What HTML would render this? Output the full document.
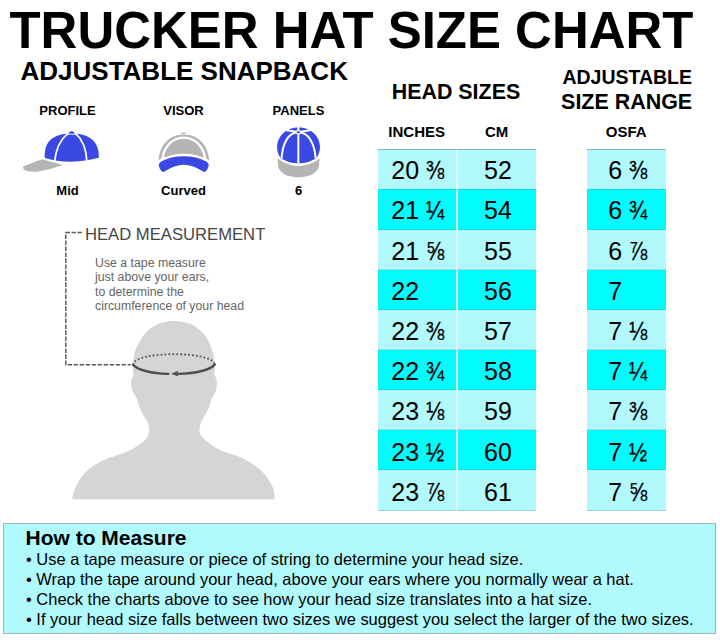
<!DOCTYPE html>
<html><head><meta charset="utf-8">
<style>
html,body{margin:0;padding:0;background:#fff;}
body{width:720px;height:642px;position:relative;overflow:hidden;font-family:"Liberation Sans",sans-serif;color:#000;}
.t{position:absolute;white-space:nowrap;line-height:1;}
.b{font-weight:bold;}
.c{transform:translateX(-50%);}
.cell{position:absolute;height:40px;}
.lt{background:#b1f9fc;}
.dk{background:#02fcfe;}
.num{position:absolute;white-space:nowrap;line-height:1;font-size:25px;}
.fr{display:inline-block;transform:scaleX(0.87);transform-origin:0 50%;margin-left:-0.5px;-webkit-text-stroke:0.3px #000;}
</style></head><body>

<div class="t b" style="left:9.5px;top:6px;font-size:50.95px;">TRUCKER HAT SIZE CHART</div>
<div class="t b" style="left:20.5px;top:58px;font-size:26px;">ADJUSTABLE SNAPBACK</div>

<div class="t b c" style="left:67.5px;top:104px;font-size:13px;">PROFILE</div>
<div class="t b c" style="left:183.5px;top:104px;font-size:13px;">VISOR</div>
<div class="t b c" style="left:298.5px;top:104px;font-size:13px;">PANELS</div>
<div class="t b c" style="left:67.5px;top:183.7px;font-size:13px;">Mid</div>
<div class="t b c" style="left:183.5px;top:183.7px;font-size:13px;">Curved</div>
<div class="t b c" style="left:298.5px;top:183.7px;font-size:13px;">6</div>

<!-- icons -->
<svg style="position:absolute;left:0;top:120px" width="360" height="70" viewBox="0 120 360 70">
  <!-- profile cap -->
  <path d="M23.4 166.3 L41.9 159.2 Q52 161.8 63 165 Q50 169.8 38 171.6 Q31 172.2 27 171 Q22 169.3 23.4 166.3Z" fill="#b3b6b2"/>
  <path d="M44.8 158 C44.2 149 46.5 142.5 52.5 138.3 C57.5 135 64 133.6 71.5 133.6 C79 133.6 85.5 135 90.5 138.3 C96.5 142.5 99 149 98.8 157.8 Q86 161.3 71 161.7 Q56 161.5 44.8 158Z" fill="#3b49e4"/>
  <ellipse cx="71.6" cy="132.9" rx="2.6" ry="1.6" fill="#3b49e4"/>
  <path d="M67.6 133.6 C61 139 56 148 54.5 162" stroke="#fff" stroke-width="1.7" fill="none"/>
  <path d="M75.8 133.6 C82.5 139.5 86.3 148 86.9 162" stroke="#fff" stroke-width="1.7" fill="none"/>
  <path d="M67.6 134.6 Q71.6 133.6 75.8 134.6" stroke="#fff" stroke-width="0.9" fill="none"/>
  <!-- visor cap -->
  <ellipse cx="183.7" cy="133.3" rx="2.6" ry="1.1" fill="#c4c6c3"/>
  <path d="M158.4 163 C158.4 146 168.5 134.4 183.75 134.4 C199 134.4 209.2 146 209.2 163Z" fill="#b3b6b2"/>
  <path d="M162.2 163 C162.2 148.5 171.5 137.6 183.75 137.6 C196 137.6 205.4 148.5 205.4 163" stroke="#fff" stroke-width="2.3" fill="none"/>
  <path d="M158.9 166 Q158.4 163.2 161.2 161.6 Q171 156.25 183.75 156.25 Q196.5 156.25 206.3 161.6 Q209.1 163.2 208.6 166 Q207.8 169.8 205.6 171.5 Q204.2 172.4 202.6 171.3 Q193 164.75 183.75 164.75 Q174.5 164.75 164.9 171.3 Q163.3 172.4 161.9 171.5 Q159.7 169.8 158.9 166Z" fill="#fff" stroke="#fff" stroke-width="5.2" stroke-linejoin="round"/>
  <path d="M158.9 166 Q158.4 163.2 161.2 161.6 Q171 156.25 183.75 156.25 Q196.5 156.25 206.3 161.6 Q209.1 163.2 208.6 166 Q207.8 169.8 205.6 171.5 Q204.2 172.4 202.6 171.3 Q193 164.75 183.75 164.75 Q174.5 164.75 164.9 171.3 Q163.3 172.4 161.9 171.5 Q159.7 169.8 158.9 166Z" fill="#3b49e4"/>
  <!-- panels cap -->
  <g transform="translate(-0.4,0.8)">
  <path d="M277.9 157.6 Q298.9 172.6 320 157.6 L319.2 166 Q318 171 311 174.5 Q305 176.6 298.9 176.6 Q292.5 176.6 286.5 174.5 Q279.8 171 278.6 166Z" fill="#b3b6b2"/>
  <clipPath id="pc"><path d="M270 120 H330 V155.1 L320.4 155.1 Q298.9 170.1 277.4 155.1 L270 155.1Z"/></clipPath>
  <ellipse cx="298.9" cy="146.3" rx="21.5" ry="19.9" fill="#3b49e4" clip-path="url(#pc)"/>
  <g stroke="#fff" stroke-width="2" fill="none" clip-path="url(#pc)">
    <path d="M298.75 125 V165"/>
    <path d="M298.75 131.4 C289 131.3 283 142 281.9 158"/>
    <path d="M298.75 131.4 C308.5 131.3 315 142 316.1 158"/>
    <path d="M298.75 131.4 L286 129.2"/>
    <path d="M298.75 131.4 L311.5 129.2"/>
  </g>
  <ellipse cx="298.75" cy="131.4" rx="2.5" ry="1.6" fill="#3b49e4" stroke="#fff" stroke-width="1.1"/>
  </g>
</svg>

<!-- head measurement -->
<svg style="position:absolute;left:50px;top:215px" width="260" height="295" viewBox="50 215 260 295">
  <path d="M72.1 499.3 C72.5 497.7 72.4 494.1 74.4 489.9 C76.4 485.7 79.5 478.7 84.0 473.9 C88.5 469.1 94.3 464.8 101.5 461.1 C108.7 457.4 119.9 454.9 127.1 451.5 C134.3 448.1 141.1 443.6 144.7 440.4 C148.3 437.2 148.2 435.2 148.8 432.4 C149.4 429.6 149.0 426.2 148.1 423.4 C147.2 420.5 144.8 418.0 143.4 415.3 C142.0 412.6 140.4 409.7 139.4 407.2 C138.4 404.7 138.0 402.0 137.3 400.1 C136.6 398.2 136.2 397.9 135.3 396.0 C134.4 394.1 132.6 391.6 131.9 388.9 C131.2 386.2 131.0 382.1 131.3 379.8 C131.6 377.5 133.5 377.1 133.7 375.2 C133.9 373.3 132.8 371.1 132.7 368.7 C132.6 366.3 132.9 363.6 133.3 360.6 C133.7 357.6 134.1 353.9 135.3 350.5 C136.5 347.1 138.4 343.6 140.4 340.4 C142.4 337.2 144.5 334.0 147.4 331.3 C150.3 328.6 153.1 325.9 157.6 324.2 C162.1 322.5 168.8 321.1 174.4 321.1 C180.0 321.1 186.6 322.5 191.0 324.2 C195.4 325.9 198.2 328.6 201.1 331.3 C204.0 334.0 206.3 337.2 208.2 340.4 C210.0 343.6 211.2 347.1 212.2 350.5 C213.2 353.9 213.9 357.6 214.3 360.6 C214.8 363.6 214.9 366.3 214.9 368.7 C214.9 371.1 214.2 372.9 214.5 374.8 C214.8 376.7 216.4 377.5 216.7 379.8 C217.0 382.1 216.9 386.2 216.3 388.9 C215.7 391.6 214.2 394.2 213.3 396.0 C212.5 397.8 211.9 397.7 211.2 399.6 C210.5 401.5 210.2 404.6 209.2 407.2 C208.2 409.8 206.5 412.6 205.1 415.3 C203.7 418.0 201.5 420.7 200.6 423.4 C199.7 426.1 199.1 428.9 199.6 431.5 C200.1 434.1 200.5 435.7 203.8 438.8 C207.2 441.9 213.3 446.7 219.7 449.9 C226.1 453.1 235.2 454.4 242.1 457.9 C249.0 461.4 256.2 465.9 261.3 470.7 C266.4 475.5 270.3 481.9 272.5 486.7 C274.7 491.5 274.3 497.2 274.7 499.3 Z" fill="#d5d5d5"/>
  <path d="M81.9 232.6 H65.8 V364.7 H130.6" stroke="#5a5a5a" stroke-width="1.5" stroke-dasharray="4.4 1.6" fill="none"/>
  <path d="M133.2 364.4 C135 350.8 212.8 350.8 214.6 364.4" stroke="#555" stroke-width="2" stroke-dasharray="0.1 3.8" stroke-linecap="round" fill="none"/>
  <path d="M132.9 364.6 C138 369.8 151 373.4 168.4 373.9" stroke="#4d4d4d" stroke-width="2.3" fill="none" stroke-linecap="round"/>
  <path d="M177.6 373.9 C195.5 373.4 209.5 370 214.8 364.6" stroke="#4d4d4d" stroke-width="2.3" fill="none" stroke-linecap="round"/>
  <path d="M171.2 373.8 L178.3 370.8 L177.2 373.8 L178.3 376.6Z" fill="#4d4d4d"/>
</svg>
<div class="t" style="left:85px;top:226.5px;font-size:16.65px;color:#454545;">HEAD MEASUREMENT</div>
<div class="t" style="left:95px;top:255.8px;font-size:12.3px;line-height:14.5px;color:#666;white-space:pre;">Use a tape measure
just above your ears,
to determine the
circumference of your head</div>

<!-- table headers -->
<div class="t b" style="left:391.8px;top:81.5px;font-size:21.4px;">HEAD SIZES</div>
<div class="t b" style="left:562.4px;top:67.9px;font-size:19.5px;">ADJUSTABLE</div>
<div class="t b" style="left:561.1px;top:92.4px;font-size:21.45px;">SIZE RANGE</div>
<div class="t b" style="left:388.3px;top:124px;font-size:15px;">INCHES</div>
<div class="t b" style="left:485px;top:124px;font-size:15px;">CM</div>
<div class="t b" style="left:605.8px;top:124px;font-size:15px;">OSFA</div>

<!-- table -->
<div id="tbl">
<div class="cell lt" style="height:40.1px;left:377.5px;top:149.40px;width:78.7px;"></div>
<div class="cell lt" style="height:40.1px;left:458px;top:149.40px;width:78.2px;"></div>
<div class="cell lt" style="height:40.1px;left:587.2px;top:149.40px;width:78.7px;"></div>
<div class="num" style="left:391.3px;top:158.05px;">20 <span class="fr">⅜</span></div>
<div class="num" style="left:498px;top:158.05px;transform:translateX(-50%);">52</div>
<div class="num" style="left:608.2px;top:158.05px;">6 <span class="fr">⅜</span></div>
<div class="cell dk" style="height:40.1px;left:377.5px;top:189.46px;width:78.7px;"></div>
<div class="cell dk" style="height:40.1px;left:458px;top:189.46px;width:78.2px;"></div>
<div class="cell dk" style="height:40.1px;left:587.2px;top:189.46px;width:78.7px;"></div>
<div class="num" style="left:391.3px;top:198.28px;">21 <span class="fr">¼</span></div>
<div class="num" style="left:498px;top:198.28px;transform:translateX(-50%);">54</div>
<div class="num" style="left:608.2px;top:198.28px;">6 <span class="fr">¾</span></div>
<div class="cell lt" style="height:40.1px;left:377.5px;top:229.52px;width:78.7px;"></div>
<div class="cell lt" style="height:40.1px;left:458px;top:229.52px;width:78.2px;"></div>
<div class="cell lt" style="height:40.1px;left:587.2px;top:229.52px;width:78.7px;"></div>
<div class="num" style="left:391.3px;top:238.51px;">21 <span class="fr">⅝</span></div>
<div class="num" style="left:498px;top:238.51px;transform:translateX(-50%);">55</div>
<div class="num" style="left:608.2px;top:238.51px;">6 <span class="fr">⅞</span></div>
<div class="cell dk" style="height:40.1px;left:377.5px;top:269.58px;width:78.7px;"></div>
<div class="cell dk" style="height:40.1px;left:458px;top:269.58px;width:78.2px;"></div>
<div class="cell dk" style="height:40.1px;left:587.2px;top:269.58px;width:78.7px;"></div>
<div class="num" style="left:391.3px;top:278.74px;">22</div>
<div class="num" style="left:498px;top:278.74px;transform:translateX(-50%);">56</div>
<div class="num" style="left:608.2px;top:278.74px;">7</div>
<div class="cell lt" style="height:40.1px;left:377.5px;top:309.64px;width:78.7px;"></div>
<div class="cell lt" style="height:40.1px;left:458px;top:309.64px;width:78.2px;"></div>
<div class="cell lt" style="height:40.1px;left:587.2px;top:309.64px;width:78.7px;"></div>
<div class="num" style="left:391.3px;top:318.97px;">22 <span class="fr">⅜</span></div>
<div class="num" style="left:498px;top:318.97px;transform:translateX(-50%);">57</div>
<div class="num" style="left:608.2px;top:318.97px;">7 <span class="fr">⅛</span></div>
<div class="cell dk" style="height:40.1px;left:377.5px;top:349.70px;width:78.7px;"></div>
<div class="cell dk" style="height:40.1px;left:458px;top:349.70px;width:78.2px;"></div>
<div class="cell dk" style="height:40.1px;left:587.2px;top:349.70px;width:78.7px;"></div>
<div class="num" style="left:391.3px;top:359.20px;">22 <span class="fr">¾</span></div>
<div class="num" style="left:498px;top:359.20px;transform:translateX(-50%);">58</div>
<div class="num" style="left:608.2px;top:359.20px;">7 <span class="fr">¼</span></div>
<div class="cell lt" style="height:40.1px;left:377.5px;top:389.76px;width:78.7px;"></div>
<div class="cell lt" style="height:40.1px;left:458px;top:389.76px;width:78.2px;"></div>
<div class="cell lt" style="height:40.1px;left:587.2px;top:389.76px;width:78.7px;"></div>
<div class="num" style="left:391.3px;top:399.43px;">23 <span class="fr">⅛</span></div>
<div class="num" style="left:498px;top:399.43px;transform:translateX(-50%);">59</div>
<div class="num" style="left:608.2px;top:399.43px;">7 <span class="fr">⅜</span></div>
<div class="cell dk" style="height:40.1px;left:377.5px;top:429.82px;width:78.7px;"></div>
<div class="cell dk" style="height:40.1px;left:458px;top:429.82px;width:78.2px;"></div>
<div class="cell dk" style="height:40.1px;left:587.2px;top:429.82px;width:78.7px;"></div>
<div class="num" style="left:391.3px;top:439.66px;">23 <span class="fr">½</span></div>
<div class="num" style="left:498px;top:439.66px;transform:translateX(-50%);">60</div>
<div class="num" style="left:608.2px;top:439.66px;">7 <span class="fr">½</span></div>
<div class="cell lt" style="height:41.1px;left:377.5px;top:469.88px;width:78.7px;"></div>
<div class="cell lt" style="height:41.1px;left:458px;top:469.88px;width:78.2px;"></div>
<div class="cell lt" style="height:41.1px;left:587.2px;top:469.88px;width:78.7px;"></div>
<div class="num" style="left:391.3px;top:479.89px;">23 <span class="fr">⅞</span></div>
<div class="num" style="left:498px;top:479.89px;transform:translateX(-50%);">61</div>
<div class="num" style="left:608.2px;top:479.89px;">7 <span class="fr">⅝</span></div>
</div><!--endtbl-->
<div id="lines">
<div style="position:absolute;left:456.2px;top:149.4px;width:1.8px;height:361.1px;background:#dafcfd;"></div>
<div style="position:absolute;left:377.5px;top:149.00px;width:158.7px;height:1px;background:rgba(90,120,120,0.5);"></div>
<div style="position:absolute;left:587.2px;top:149.00px;width:78.7px;height:1px;background:rgba(90,120,120,0.5);"></div>
<div style="position:absolute;left:377.5px;top:189.06px;width:158.7px;height:1px;background:rgba(90,120,120,0.22);"></div>
<div style="position:absolute;left:587.2px;top:189.06px;width:78.7px;height:1px;background:rgba(90,120,120,0.22);"></div>
<div style="position:absolute;left:377.5px;top:229.12px;width:158.7px;height:1px;background:rgba(90,120,120,0.22);"></div>
<div style="position:absolute;left:587.2px;top:229.12px;width:78.7px;height:1px;background:rgba(90,120,120,0.22);"></div>
<div style="position:absolute;left:377.5px;top:269.18px;width:158.7px;height:1px;background:rgba(90,120,120,0.22);"></div>
<div style="position:absolute;left:587.2px;top:269.18px;width:78.7px;height:1px;background:rgba(90,120,120,0.22);"></div>
<div style="position:absolute;left:377.5px;top:309.24px;width:158.7px;height:1px;background:rgba(90,120,120,0.22);"></div>
<div style="position:absolute;left:587.2px;top:309.24px;width:78.7px;height:1px;background:rgba(90,120,120,0.22);"></div>
<div style="position:absolute;left:377.5px;top:349.30px;width:158.7px;height:1px;background:rgba(90,120,120,0.22);"></div>
<div style="position:absolute;left:587.2px;top:349.30px;width:78.7px;height:1px;background:rgba(90,120,120,0.22);"></div>
<div style="position:absolute;left:377.5px;top:389.36px;width:158.7px;height:1px;background:rgba(90,120,120,0.22);"></div>
<div style="position:absolute;left:587.2px;top:389.36px;width:78.7px;height:1px;background:rgba(90,120,120,0.22);"></div>
<div style="position:absolute;left:377.5px;top:429.42px;width:158.7px;height:1px;background:rgba(90,120,120,0.22);"></div>
<div style="position:absolute;left:587.2px;top:429.42px;width:78.7px;height:1px;background:rgba(90,120,120,0.22);"></div>
<div style="position:absolute;left:377.5px;top:469.48px;width:158.7px;height:1px;background:rgba(90,120,120,0.22);"></div>
<div style="position:absolute;left:587.2px;top:469.48px;width:78.7px;height:1px;background:rgba(90,120,120,0.22);"></div>
<div style="position:absolute;left:377.5px;top:510.14px;width:158.7px;height:1px;background:rgba(90,120,120,0.3);"></div>
<div style="position:absolute;left:587.2px;top:510.14px;width:78.7px;height:1px;background:rgba(90,120,120,0.3);"></div>
</div>

<!-- how to measure -->
<div style="position:absolute;left:3px;top:523px;width:711px;height:109.3px;background:#b0f9fc;border:1px solid #a9b4b6;box-sizing:content-box;"></div>
<div class="t b" style="left:25.5px;top:527.2px;font-size:21px;">How to Measure</div>
<div class="t" style="left:26px;top:550px;font-size:16.48px;line-height:19.85px;white-space:pre;">• Use a tape measure or piece of string to determine your head size.
• Wrap the tape around your head, above your ears where you normally wear a hat.
• Check the charts above to see how your head size translates into a hat size.
• If your head size falls between two sizes we suggest you select the larger of the two sizes.</div>

</body></html>
